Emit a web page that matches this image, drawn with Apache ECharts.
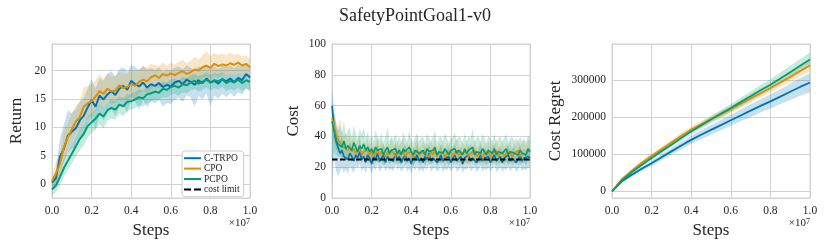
<!DOCTYPE html>
<html>
<head>
<meta charset="utf-8">
<script src="https://cdn.jsdelivr.net/npm/echarts@6/dist/echarts.min.js"></script>
<style>
html,body{margin:0;padding:0;background:#fff;}
#chart{width:830px;height:249px;}
</style>
</head>
<body>
<div id="chart"></div>
<script>
// ---------------- DATA ----------------
const title = 'SafetyPointGoal1-v0';
const seriesNames = ['C-TRPO', 'CPO', 'PCPO'];
const limitName = 'cost limit';
const costLimit = 25;
const xTicks = [0, 0.2, 0.4, 0.6, 0.8, 1.0]; // x 10^7 steps

// Return (51 evenly spaced points over 0..1e7 steps)
const retCtrpo = [0.2,1.0,4.8,6.2,8.5,9.2,9.8,11.2,12.0,13.5,14.8,13.6,15.6,14.9,15.8,16.4,15.7,16.8,17.3,16.6,18.2,17.6,17.2,17.9,17.0,17.6,17.3,17.8,17.1,17.5,17.2,17.9,18.2,17.6,18.4,18.0,17.5,18.3,17.8,18.6,17.9,18.2,17.7,18.5,18.1,18.6,18.0,18.7,18.3,19.4,18.8];
const retCtrpoHi = [0.8,2.5,8,10.5,13,12.5,13.2,14.5,15.2,16.8,18.5,16.8,18.7,18.2,19.5,19.9,19.0,20.3,20.6,19.8,21.0,20.7,20.1,20.9,20.2,20.4,20.1,20.6,19.8,20.2,20.0,20.5,20.7,20.2,20.9,20.5,20.1,20.8,20.4,21.0,20.4,20.7,20.3,20.9,20.6,20.9,20.5,21.0,20.7,21.3,20.9];
const retCtrpoLo = [-1.0,-0.5,2.5,3.8,5.5,6.2,6.5,8.0,8.8,10.5,11.8,9.5,12.3,11.2,12.5,13.2,12.0,13.6,14.0,12.4,15.3,14.6,13.0,14.8,13.5,14.6,14.2,14.9,13.6,14.3,14.1,14.8,15.3,14.4,15.6,15.3,13.6,15.5,14.9,15.9,13.8,15.6,15.0,15.9,15.3,16.0,15.4,16.2,15.7,16.9,16.5];
const retCpo = [0.5,1.8,3.5,6.5,8.2,9.6,11.0,11.8,13.6,14.2,14.6,15.4,16.4,15.9,16.8,16.3,16.5,17.4,16.9,17.1,17.6,17.3,18.0,18.4,18.1,18.8,19.2,18.7,19.4,19.1,19.5,19.2,19.6,19.9,19.4,19.7,20.2,20.0,20.6,20.9,20.5,21.2,20.8,21.1,20.9,21.3,21.0,21.4,20.9,21.2,20.6];
const retCpoHi = [1.2,4.0,5.5,9.5,10.8,12.5,13.8,14.5,17.0,17.3,17.6,18.3,19.4,18.6,19.5,18.9,19.0,19.8,19.6,19.4,20.3,19.8,20.2,20.7,20.5,21.2,21.0,20.8,21.4,20.9,21.4,21.1,21.5,21.9,21.3,21.8,22.4,22.0,22.8,23.4,22.6,23.1,22.8,23.0,22.7,23.2,22.8,23.0,22.5,22.7,22.0];
const retCpoLo = [-0.5,0.2,1.5,4.0,5.8,7.3,8.6,9.5,10.8,11.7,12.3,13.0,13.9,13.5,14.6,14.2,14.3,15.2,14.8,15.0,15.3,15.2,16.0,16.4,16.0,16.7,17.2,16.8,17.5,17.3,17.6,17.3,17.8,18.0,17.5,17.8,18.3,18.1,18.6,18.9,18.6,19.2,18.9,19.3,19.0,19.5,19.2,19.6,19.1,19.5,19.0];
const retPcpo = [-1.0,-0.3,1.2,2.8,4.1,5.3,6.6,7.9,8.8,10.2,10.9,11.5,12.4,11.9,13.0,13.4,13.1,14.0,13.7,14.5,14.6,14.9,15.3,15.1,15.8,16.0,16.3,16.1,16.8,16.6,17.1,17.3,17.0,17.6,17.4,17.9,18.2,17.7,18.0,18.4,17.9,18.3,18.1,18.5,17.8,18.2,17.9,18.4,17.8,18.3,18.0];
const retPcpoHi = [-0.2,0.8,2.6,4.4,5.6,7.0,8.3,9.6,10.5,12.0,12.5,13.2,14.0,13.5,14.4,14.9,14.6,15.4,15.1,15.8,15.9,16.3,16.7,16.5,17.1,17.3,17.6,17.4,18.1,17.9,18.4,18.6,18.3,18.9,18.7,19.2,19.4,19.0,19.3,19.7,19.2,19.6,19.4,19.7,19.1,19.5,19.2,19.6,19.1,19.5,19.2];
const retPcpoLo = [-2.0,-1.5,-0.3,1.2,2.4,3.6,4.8,6.0,6.8,8.2,9.0,9.6,10.5,9.8,11.2,11.6,11.3,12.4,12.0,12.9,13.1,13.4,13.9,13.6,14.3,14.6,14.9,14.7,15.3,15.2,15.7,15.9,15.6,16.2,16.0,16.5,16.8,16.3,16.6,17.0,16.5,16.9,16.7,17.1,16.4,16.8,16.5,17.0,16.3,16.8,16.4];

// Cost (101 evenly spaced points over 0..1e7 steps)
const costCtrpo = [60,46,37,33,29,31,27,28,25,29,27,24,28,26,30,25,27,23,28,26,22,27,25,29,24,26,28,23,27,25,26,24,29,25,27,23,26,28,24,26,22,27,25,28,24,26,23,27,25,29,24,26,27,23,25,28,24,26,25,27,23,26,28,24,25,27,22,26,25,28,24,26,27,23,25,28,24,26,25,27,23,26,28,24,25,27,23,26,25,28,24,26,27,23,25,28,24,26,25,27,26];
const costCtrpoHi = [72,58,48,42,37,40,34,36,31,37,33,30,35,32,38,30,33,29,35,32,28,33,31,36,30,32,35,28,33,31,32,30,37,31,33,29,32,35,30,32,28,33,31,35,30,32,29,33,31,36,30,32,33,29,31,35,30,32,31,33,29,32,35,30,31,33,28,32,31,35,30,32,33,29,31,35,30,32,31,33,29,32,35,30,31,33,29,32,31,35,30,32,33,29,31,35,30,32,31,33,32];
const costCtrpoLo = [10,25,18,14,17,20,16,19,15,21,18,16,21,19,22,17,20,16,21,19,16,20,18,22,17,19,21,17,20,18,19,17,22,18,20,17,19,21,17,19,16,20,18,21,17,19,17,20,18,22,17,19,20,17,18,21,17,19,18,20,17,19,21,17,18,20,16,19,18,21,17,19,20,17,18,21,17,19,18,20,17,19,21,17,18,20,17,19,18,21,17,19,20,17,18,21,17,19,18,20,19];
const costCpo = [52,47,41,38,36,35,33,34,31,33,30,32,29,31,33,28,30,29,31,28,30,27,29,31,28,30,29,27,30,28,31,29,27,30,28,29,31,27,29,28,30,26,29,31,28,27,30,28,29,27,30,28,31,27,29,28,30,26,29,28,30,27,29,31,28,27,29,28,30,27,29,28,31,27,28,30,26,29,28,30,27,29,28,31,27,28,30,27,29,28,30,26,29,28,31,27,29,30,28,31,30];
const costCpoHi = [62,58,50,46,52,44,40,42,38,41,37,40,35,38,41,34,37,35,39,34,37,33,36,39,34,37,35,33,37,34,39,35,33,37,34,36,39,33,36,34,37,32,36,39,34,33,37,34,36,33,37,34,39,33,36,34,37,32,36,34,37,33,36,39,34,33,36,34,37,33,36,34,39,33,34,37,32,36,34,37,33,36,34,39,33,34,37,33,36,34,37,32,36,34,39,33,36,37,34,38,37];
const costCpoLo = [42,36,32,30,28,27,26,27,24,26,24,25,23,24,26,22,24,23,25,22,24,21,23,25,22,24,23,21,24,22,25,23,21,24,22,23,25,21,23,22,24,20,23,25,22,21,24,22,23,21,24,22,25,21,23,22,24,20,23,22,24,21,23,25,22,21,23,22,24,21,23,22,25,21,22,24,20,23,22,24,21,23,22,25,21,22,24,21,23,22,24,20,23,22,25,21,23,24,22,25,24];
const costPcpo = [50,44,38,35,36,33,37,32,34,35,31,36,33,30,34,32,35,31,33,30,32,29,33,31,30,32,28,31,33,29,31,30,32,29,31,28,32,30,29,33,30,28,31,32,29,30,31,28,32,30,29,31,33,28,30,31,29,32,30,28,31,30,32,29,31,30,28,32,29,31,30,33,28,30,31,29,32,30,28,31,30,29,32,28,30,31,29,30,32,28,30,31,29,30,28,31,29,30,28,32,30];
const costPcpoHi = [58,55,48,44,47,42,50,41,44,46,39,47,42,38,45,41,46,39,43,38,41,37,44,40,38,42,36,40,46,37,40,38,42,37,40,36,43,39,37,44,38,36,40,42,37,39,40,36,42,39,37,40,44,36,39,40,37,42,39,36,40,39,43,37,40,39,36,42,37,40,39,45,36,39,40,37,42,39,36,40,39,37,42,36,39,40,37,39,42,36,39,40,37,39,36,40,37,39,36,41,39];
const costPcpoLo = [22,30,28,27,27,25,27,24,26,26,23,27,25,23,26,24,26,23,25,23,24,22,25,23,23,24,21,23,25,22,23,23,24,22,23,21,24,23,22,25,23,21,23,24,22,23,23,21,24,23,22,23,25,21,23,23,22,24,23,21,23,23,24,22,23,23,21,24,22,23,23,25,21,23,23,22,24,23,21,23,23,22,24,21,23,23,22,23,24,21,23,23,22,23,21,23,22,23,21,24,23];

// Cost regret (21 evenly spaced points over 0..1e7 steps)
const regCtrpo = [0,27000,45000,61000,76000,92000,108000,124000,139000,153000,166000,179000,192000,205000,218000,231000,243000,256000,269000,282000,294000];
const regCtrpoHalf = [0,3000,5000,6000,7000,8000,9000,10000,11000,12000,13000,14000,15000,16000,17000,18000,19000,20000,22000,24000,26000];
const regCpo = [0,33000,56000,77000,96000,114000,132000,150000,167000,181000,195000,208000,221000,236000,251000,265000,279000,294000,309000,325000,340000];
const regCpoHalf = [0,3000,4000,5000,6000,7000,7000,8000,8000,9000,9000,10000,10000,11000,11000,12000,12000,13000,14000,15000,16000];
const regPcpo = [0,30000,52000,71000,90000,108000,126000,144000,162000,178000,194000,210000,225000,241000,257000,273000,288000,305000,322000,339000,356000];
const regPcpoHalf = [0,2000,3000,4000,5000,6000,6000,7000,8000,8000,9000,10000,11000,12000,13000,14000,15000,16000,17000,18000,19000];

// ---------------- STYLE ----------------
const colors = ['#0173b2', '#de8f05', '#029e73'];
const serif = 'Liberation Serif';
const gridColor = '#d3d3d3';
const textColor = '#262626';

function pts(arr) { return arr.map((v, i) => [i / (arr.length - 1), v]); }

function bandSeries(ax, lo, hi, color, opacity) {
  const hiPts = pts(hi), loPts = pts(lo).reverse();
  const poly = hiPts.concat(loPts);
  return { type: 'custom', xAxisIndex: ax, yAxisIndex: ax, silent: true, clip: true,
    data: [[0, lo[0]]],
    renderItem: (params, api) => ({
      type: 'polygon',
      shape: { points: poly.map(p => api.coord(p)) },
      style: { fill: color, opacity: opacity }
    }) };
}
function lineSeries(ax, name, data, color, width) {
  return { type: 'line', name: name, xAxisIndex: ax, yAxisIndex: ax, data: pts(data), symbol: 'none',
    showSymbol: false, itemStyle: { color: color }, lineStyle: { color: color, width: width } };
}

const panels = [
  { left: 52, yName: 'Return', nameGap: 27, min: -2.5, max: 24.7, op: 0.22, lw: 2,
    m: [retCtrpo, retCpo, retPcpo], lo: [retCtrpoLo, retCpoLo, retPcpoLo], hi: [retCtrpoHi, retCpoHi, retPcpoHi] },
  { left: 332, yName: 'Cost', nameGap: 30, min: 0, max: 100, interval: 20, op: 0.22, lw: 1.6,
    m: [costCtrpo, costCpo, costPcpo], lo: [costCtrpoLo, costCpoLo, costPcpoLo], hi: [costCtrpoHi, costCpoHi, costPcpoHi] },
  { left: 612, yName: 'Cost Regret', nameGap: 48, min: -18000, max: 398000, op: 0.22, lw: 1.8,
    m: [regCtrpo, regCpo, regPcpo],
    lo: [regCtrpo, regCpo, regPcpo].map((a, k) => a.map((v, i) => v - [regCtrpoHalf, regCpoHalf, regPcpoHalf][k][i])),
    hi: [regCtrpo, regCpo, regPcpo].map((a, k) => a.map((v, i) => v + [regCtrpoHalf, regCpoHalf, regPcpoHalf][k][i])) }
];

const grids = [], xAxes = [], yAxes = [], series = [], graphics = [];
panels.forEach((p, ax) => {
  grids.push({ left: p.left, width: 198, top: 44, height: 154, show: true, borderColor: gridColor, borderWidth: 1, containLabel: false });
  xAxes.push({ type: 'value', gridIndex: ax, min: 0, max: 1, interval: 0.2,
    name: 'Steps', nameLocation: 'middle', nameGap: 21,
    nameTextStyle: { fontFamily: serif, fontSize: 17, color: textColor },
    axisLine: { show: true, lineStyle: { color: gridColor, width: 1 } }, axisTick: { show: false },
    axisLabel: { fontFamily: serif, fontSize: 11.5, color: textColor, margin: 7, formatter: v => v.toFixed(1) },
    splitLine: { show: true, lineStyle: { color: gridColor, width: 1 } } });
  const ya = { type: 'value', gridIndex: ax, min: p.min, max: p.max,
    name: p.yName, nameLocation: 'middle', nameGap: p.nameGap,
    nameTextStyle: { fontFamily: serif, fontSize: 17, color: textColor },
    axisLine: { show: true, lineStyle: { color: gridColor, width: 1 } }, axisTick: { show: false },
    axisLabel: { fontFamily: serif, fontSize: 11.5, color: textColor, margin: 6, showMinLabel: p.min === 0, showMaxLabel: p.max === 100,
      formatter: v => String(v) },
    splitLine: { show: true, lineStyle: { color: gridColor, width: 1 } } };
  if (p.interval) ya.interval = p.interval;
  yAxes.push(ya);
  for (let k = 0; k < 3; k++) {
    series.push(bandSeries(ax, p.lo[k], p.hi[k], colors[k], p.op));
    series.push(lineSeries(ax, seriesNames[k], p.m[k], colors[k], p.lw));
  }
  graphics.push({ type: 'text', right: 830 - (p.left + 198), top: 218,
    style: { text: '×10{s|7}', fontFamily: serif, fontSize: 11, fill: textColor,
      rich: { s: { fontSize: 8, verticalAlign: 'top', lineHeight: 8, fontFamily: serif, fill: textColor } } } });
});
series.push({ type: 'line', name: limitName, xAxisIndex: 1, yAxisIndex: 1, data: [[0, costLimit], [1, costLimit]],
  symbol: 'none', z: 10, itemStyle: { color: '#000' }, lineStyle: { color: '#000', width: 2, type: [5.5, 2.5] } });

const solidIcon = 'path://M0,0H17V2H0Z';
const dashIcon = 'path://M0,0H7V2H0Z M10,0H17V2H10Z';
const option = {
  animation: false,
  backgroundColor: '#fff',
  title: { text: title, left: 'center', top: 2, textStyle: { fontFamily: serif, fontSize: 18, fontWeight: 'normal', color: textColor } },
  legend: { data: seriesNames.map(n => ({ name: n, icon: solidIcon })).concat([{ name: limitName, icon: dashIcon }]),
    orient: 'vertical', left: 182, top: 151, itemWidth: 17, itemHeight: 2, itemGap: 0,
    padding: [2, 4, 2, 2], borderColor: '#cccccc', borderWidth: 1, borderRadius: 3, backgroundColor: 'rgba(255,255,255,0.85)',
    textStyle: { fontFamily: serif, fontSize: 9.5, lineHeight: 10.4, color: textColor, padding: [0, 0, 0, -2] } },
  grid: grids, xAxis: xAxes, yAxis: yAxes, series: series, graphic: graphics
};
const chart = echarts.init(document.getElementById('chart'), null, { renderer: 'canvas' });
chart.setOption(option);
</script>
</body>
</html>
